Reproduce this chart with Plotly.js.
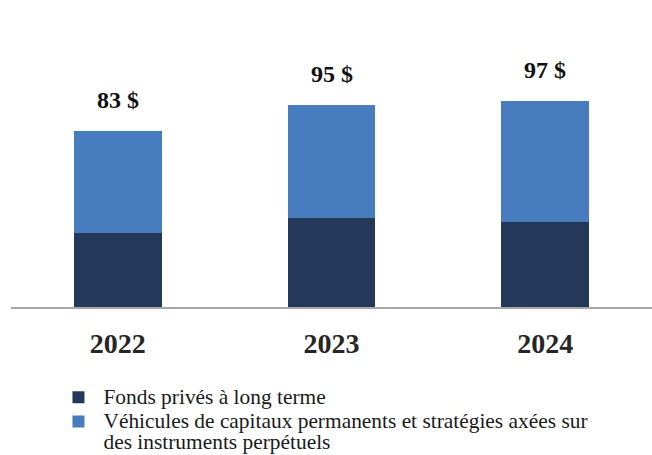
<!DOCTYPE html>
<html>
<head>
<meta charset="utf-8">
<script src="https://cdn.plot.ly/plotly-3.0.1.min.js"></script>
<style>html,body{margin:0;padding:0;background:#fff;}#chart{width:652px;height:455px;}</style>
</head>
<body>
<div id="chart"></div>
<script>
const years = ['2022', '2023', '2024'];
const fondsPrives = [35, 42, 40];
const vehicules = [48, 53, 57];
const seriesNames = ['Fonds privés à long terme', 'Véhicules de capitaux permanents et stratégies axées sur<br>des instruments perpétuels'];
const totals = years.map((y, i) => fondsPrives[i] + vehicules[i]);
const totalLabels = totals.map(t => t + ' $');

const serif = '"Liberation Serif", "Times New Roman", serif';
const legendName = s => '<span style="font-size:21.4px">' + s.split('<br>').join('</span><br><span style="font-size:21.4px">') + '</span>';

const traces = [
  {type: 'bar', x: years, y: fondsPrives, name: legendName(seriesNames[0]), width: 0.41,
   marker: {color: '#243959'}, hoverinfo: 'skip'},
  {type: 'bar', x: years, y: vehicules, name: legendName(seriesNames[1]), width: 0.41,
   marker: {color: '#477CBE'}, hoverinfo: 'skip'}
];

const annotations = years.map((y, i) => ({
  x: i, y: totals[i], xref: 'x', yref: 'y', text: '<b>' + totalLabels[i] + '</b>', showarrow: false,
  yanchor: 'middle', yshift: 31,
  font: {family: serif, size: 24, color: '#111111'}
}));

const layout = {
  width: 652, height: 455,
  margin: {l: 11, r: 0, t: 10, b: 148, autoexpand: false},
  barmode: 'stack',
  paper_bgcolor: '#ffffff', plot_bgcolor: '#ffffff',
  showlegend: true,
  legend: {xref: 'container', yref: 'container', x: 0.082, xanchor: 'left', y: 0.165, yanchor: 'top',
    traceorder: 'normal', valign: 'top', itemwidth: 40,
    font: {family: serif, size: 16.5, color: '#1a1a1a'}, tracegroupgap: 0, bgcolor: 'rgba(0,0,0,0)'},
  xaxis: {type: 'category', range: [-0.5, 2.5], showline: true, linecolor: '#a6a6a6', linewidth: 2,
    ticks: '', showgrid: false, zeroline: false, ticklabelstandoff: 10,
    tickfont: {family: serif, size: 28, color: '#262626', weight: 'bold'}},
  yaxis: {range: [0, 140], visible: false, showgrid: false, zeroline: false},
  annotations: annotations
};

Plotly.newPlot('chart', traces, layout, {staticPlot: true, displayModeBar: false});
</script>
</body>
</html>
